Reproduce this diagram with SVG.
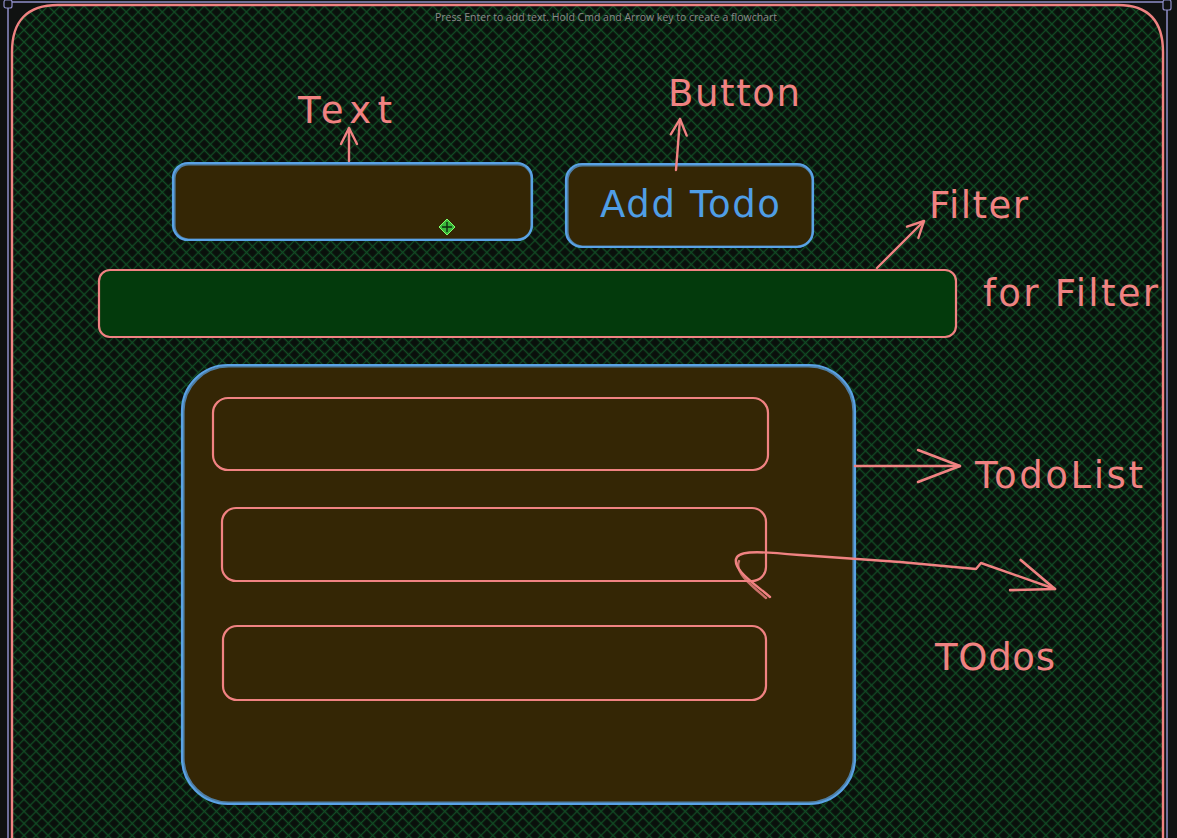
<svg xmlns="http://www.w3.org/2000/svg" width="1177" height="838" viewBox="0 0 1177 838">
  <defs>
    <pattern id="hatch" width="8.5" height="8.5" patternUnits="userSpaceOnUse" patternTransform="rotate(45)">
      <rect width="8.5" height="8.5" fill="#0a100c"/>
      <path d="M0,4.25 H8.5 M4.25,0 V8.5" stroke="#114c24" stroke-width="1.3" fill="none"/>
    </pattern>
    <marker id="head" viewBox="0 0 20 20" refX="18" refY="10" markerWidth="20" markerHeight="20" markerUnits="userSpaceOnUse" orient="auto">
      <path d="M2,2 L18,10 L2,18" fill="none" stroke="#f08282" stroke-width="2.4" stroke-linecap="round" stroke-linejoin="round"/>
    </marker>
    <marker id="headBig" viewBox="0 0 46 36" refX="44" refY="18" markerWidth="46" markerHeight="36" markerUnits="userSpaceOnUse" orient="auto">
      <path d="M2,2 L44,18 L2,34" fill="none" stroke="#f08282" stroke-width="2.6" stroke-linecap="round" stroke-linejoin="round"/>
    </marker>
  </defs>
  <style>
    .pink { fill: none; stroke: #f08282; stroke-width: 2.2; }
    .blue { fill: none; stroke: #5aa2e6; stroke-width: 2.2; }
    .brown { fill: #342605; }
    .lbl { font-family: "DejaVu Sans", "Liberation Sans", sans-serif; font-size: 37px; fill: #f08282; }
    .lblBlue { font-family: "DejaVu Sans", "Liberation Sans", sans-serif; font-size: 37px; fill: #4f9ee6; }
    .conn { fill: none; stroke: #f08282; stroke-width: 2.4; stroke-linecap: round; stroke-linejoin: round; }
    .sel { stroke: #8e8ec8; stroke-width: 1.5; fill: none; }
  </style>

  <rect x="0" y="0" width="1177" height="838" fill="#101211"/>

  <!-- selection outline (editor UI) -->
  <g id="selection">
    <path class="sel" d="M8,3 V838 M8,2 H1167 M1167,3 V838"/>
    <rect x="4" y="0" width="8" height="8" rx="2" fill="#101211" stroke="#8e8ec8" stroke-width="1.2"/>
    <rect x="1163" y="0" width="8" height="10" rx="2" fill="#101211" stroke="#8e8ec8" stroke-width="1.2"/>
  </g>

  <!-- outer frame with cross-hatch fill -->
  <g id="frame">
    <path d="M12,870 V52 Q12,5 58,5 H1118 Q1163,5 1163,52 V870 Z" fill="url(#hatch)" stroke="#f08282" stroke-width="2.4"/>
  </g>

  <text x="435" y="21" font-family="'Open Sans', 'Noto Sans', sans-serif" font-size="11" fill="#8a8a8a" textLength="342" lengthAdjust="spacingAndGlyphs">Press Enter to add text. Hold Cmd and Arrow key to create a flowchart</text>

  <!-- text input -->
  <g id="text-input">
    <rect x="173" y="163" width="359" height="77" rx="15" class="brown"/>
    <rect x="173" y="163" width="359" height="77" rx="15" class="blue"/>
    <rect x="174.5" y="164.5" width="357" height="75" rx="14" class="blue" stroke-width="1" opacity="0.7"/>
  </g>

  <!-- move cursor icon -->
  <g id="cursor">
    <path d="M447,219 L455,227 L447,235 L439,227 Z" fill="#3bb83b" stroke="#7cff6a" stroke-width="1"/>
    <path d="M447,222 V232 M442,227 H452" stroke="#0d2a0d" stroke-width="1.4"/>
  </g>

  <!-- add todo button -->
  <g id="add-todo-button">
    <rect x="566" y="164" width="247" height="83" rx="16" class="brown"/>
    <rect x="566" y="164" width="247" height="83" rx="16" class="blue"/>
    <rect x="567.5" y="165.5" width="245" height="81" rx="15" class="blue" stroke-width="1" opacity="0.7"/>
    <text x="600" y="217" class="lblBlue" textLength="180" lengthAdjust="spacing">Add Todo</text>
  </g>

  <!-- filter bar -->
  <g id="filter-bar">
    <rect x="99" y="270" width="857" height="67" rx="11" fill="#033a0c"/>
    <rect x="99" y="270" width="857" height="67" rx="11" class="pink"/>
  </g>

  <!-- todo list container -->
  <g id="todo-list">
    <rect x="182" y="365" width="673" height="439" rx="46" class="brown"/>
    <rect x="182" y="365" width="673" height="439" rx="46" class="blue"/>
    <rect x="183.5" y="366.5" width="670" height="436" rx="45" class="blue" stroke-width="1" opacity="0.7"/>
  </g>

  <g id="todo-1">
    <rect x="213" y="398" width="555" height="72" rx="15" class="pink"/>
  </g>
  <g id="todo-2">
    <rect x="222" y="508" width="544" height="73" rx="14" class="pink"/>
  </g>
  <g id="todo-3">
    <rect x="223" y="626" width="543" height="74" rx="14" class="pink"/>
  </g>

  <!-- labels -->
  <g id="label-text"><text x="298" y="123" class="lbl" textLength="94" lengthAdjust="spacing">Text</text></g>
  <g id="label-button"><text x="668" y="106" class="lbl" textLength="132" lengthAdjust="spacing">Button</text></g>
  <g id="label-filter"><text x="929" y="218" class="lbl" textLength="99" lengthAdjust="spacing">Filter</text></g>
  <g id="label-for-filter"><text x="983" y="306" class="lbl" textLength="175" lengthAdjust="spacing">for Filter</text></g>
  <g id="label-todolist"><text x="975" y="488" class="lbl" textLength="168" lengthAdjust="spacing">TodoList</text></g>
  <g id="label-todos"><text x="935" y="670" class="lbl" textLength="120" lengthAdjust="spacing">TOdos</text></g>

  <!-- connectors -->
  <g id="connectors">
    <path class="conn" d="M349,161 L349,128" marker-end="url(#head)"/>
    <path class="conn" d="M676,170 L680,119" marker-end="url(#head)"/>
    <path class="conn" d="M877,268 L924,221" marker-end="url(#head)"/>
    <path class="conn" d="M855,466 L960,466" marker-end="url(#headBig)"/>
    <path class="conn" d="M770,597 C755,584 730,568 737,557 C742,550 765,552 800,555 L900,562 L976,569 L981,563 L1055,589" marker-end="url(#headBig)"/>
    <path class="conn" d="M766,598 C752,586 734,572 739,561" stroke-width="1.2" opacity="0.8"/>
  </g>
</svg>
